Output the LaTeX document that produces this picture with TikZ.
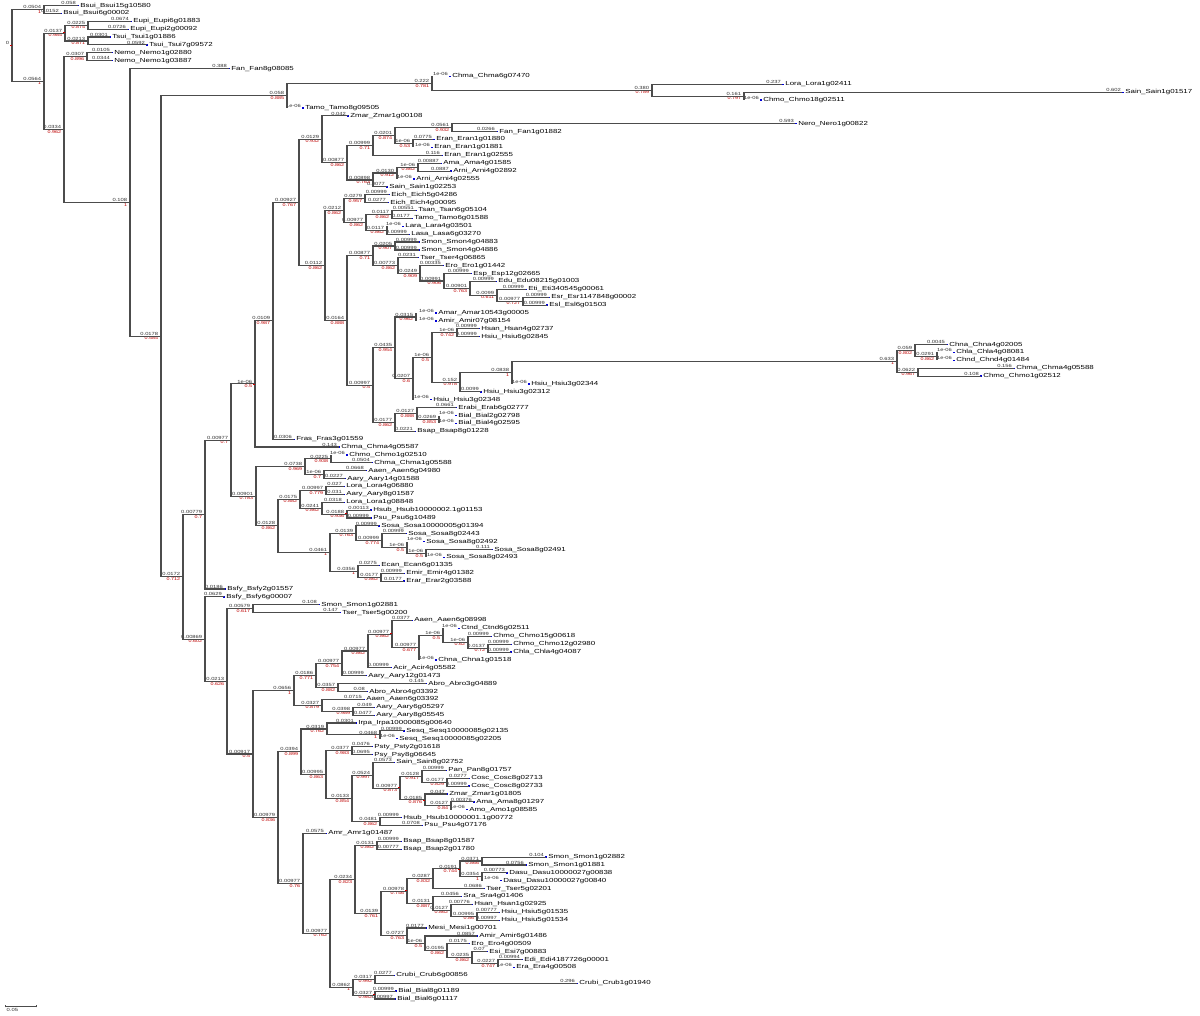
\documentclass[tikz,border=0pt]{standalone}
\usepackage{fontspec}
\setmainfont{Liberation Sans}
\usetikzlibrary{calc}
\tikzset{
  br/.style={draw=black!70, line width=0.85pt},
  bltxt/.style={font=\fontsize{3.35}{3.35}\selectfont, inner sep=0.2pt, xscale=1.3, text=black!80},
  sptxt/.style={font=\fontsize{3.1}{3.1}\selectfont, inner sep=0.2pt, xscale=1.3, text=red!75!black},
  lftxt/.style={font=\fontsize{4.4}{4.4}\selectfont, inner sep=0pt, anchor=west, xscale=1.35},
  lmark/.style={fill=blue!85!black},
  nmark/.style={fill=red!80!black}
}
\newcommand\TLeaf[5]{%
  \pgfmathsetmacro\ly{5.5+7.885*#1}%
  \coordinate (L#1) at (#2,\ly);
  \fill[lmark] ({#3-3.2},{\ly-0.65}) rectangle ({#3-0.6},{\ly+0.65});
  \node[bltxt,anchor=south east] at ({#3-3.4},{\ly-0.3}) {#4};
  \node[lftxt] (N#1) at (#3,\ly) {#5};
}
\newcommand\TNode[6]{%
  \coordinate (tmp) at ($(#3)!0.5!(#4)$);
  \coordinate (#1) at (tmp -| #2,0);
  \draw[br] (#1) |- (#3);
  \draw[br] (#1) |- (#4);
  \fill[nmark] ([xshift=-1.4pt,yshift=-0.45pt]#1) rectangle ([yshift=0.45pt]#1);
  \node[bltxt,anchor=south east] at ([xshift=-1.6pt,yshift=0.2pt]#1) {#5};
  \node[sptxt,anchor=north east] at ([xshift=-1.6pt,yshift=-0.2pt]#1) {#6};
}
\begin{document}
\begin{tikzpicture}[x=0.75pt,y=-0.75pt]
\fill[white] (0,0) rectangle (1200,1016);
\useasboundingbox (0,0) rectangle (1200,1016);
% leaves
\TLeaf{0}{78}{80}{0.058}{Bsui\_Bsui15g10580}
\TLeaf{1}{61}{63}{0.0152}{Bsui\_Bsui6g00002}
\TLeaf{2}{131}{133}{0.0674}{Eupi\_Eupi6g01883}
\TLeaf{3}{128}{130}{0.0726}{Eupi\_Eupi2g00092}
\TLeaf{4}{110}{112}{0.0301}{Tsui\_Tsui1g01886}
\TLeaf{5}{147}{149}{0.0592}{Tsui\_Tsui7g09572}
\TLeaf{6}{112}{114}{0.0105}{Nemo\_Nemo1g02880}
\TLeaf{7}{112}{114}{0.0344}{Nemo\_Nemo1g03887}
\TLeaf{8}{229}{231}{0.388}{Fan\_Fan8g08085}
\TLeaf{9}{432}{452}{1e-06}{Chma\_Chma6g07470}
\TLeaf{10}{782}{785}{0.237}{Lora\_Lora1g02411}
\TLeaf{11}{1122}{1125}{0.602}{Sain\_Sain1g01517}
\TLeaf{12}{744}{763}{1e-06}{Chmo\_Chmo18g02511}
\TLeaf{13}{287}{305}{1e-06}{Tamo\_Tamo8g09505}
\TLeaf{14}{348}{350}{0.042}{Zmar\_Zmar1g00108}
\TLeaf{15}{795}{798}{0.593}{Nero\_Nero1g00822}
\TLeaf{16}{497}{499}{0.0266}{Fan\_Fan1g01882}
\TLeaf{17}{433}{436}{0.0775}{Eran\_Eran1g01880}
\TLeaf{18}{413}{434}{1e-06}{Eran\_Eran1g01881}
\TLeaf{19}{442}{444}{0.116}{Eran\_Eran1g02555}
\TLeaf{20}{441}{443}{0.00887}{Ama\_Ama4g01585}
\TLeaf{21}{451}{453}{0.0887}{Arni\_Arni4g02892}
\TLeaf{22}{397}{416}{1e-06}{Arni\_Arni4g02555}
\TLeaf{23}{387}{389}{0.0077}{Sain\_Sain1g02253}
\TLeaf{24}{389}{391}{0.00999}{Eich\_Eich5g04286}
\TLeaf{25}{388}{390}{0.0277}{Eich\_Eich4g00095}
\TLeaf{26}{416}{418}{0.00551}{Tsan\_Tsan6g05104}
\TLeaf{27}{412}{414}{0.0177}{Tamo\_Tamo6g01588}
\TLeaf{28}{387}{405}{1e-06}{Lara\_Lara4g03501}
\TLeaf{29}{409}{411}{0.00999}{Lasa\_Lasa6g03270}
\TLeaf{30}{419}{421}{0.00999}{Smon\_Smon4g04883}
\TLeaf{31}{419}{421}{0.00999}{Smon\_Smon4g04886}
\TLeaf{32}{418}{420}{0.0231}{Tser\_Tser4g06865}
\TLeaf{33}{443}{445}{0.00335}{Ero\_Ero1g01442}
\TLeaf{34}{471}{473}{0.00999}{Esp\_Esp12g02665}
\TLeaf{35}{496}{498}{0.00999}{Edu\_Edu08215g01003}
\TLeaf{36}{526}{528}{0.00999}{Eti\_Eti340545g00061}
\TLeaf{37}{549}{551}{0.00999}{Esr\_Esr1147848g00002}
\TLeaf{38}{547}{549}{0.00999}{Esl\_Esl6g01503}
\TLeaf{39}{416}{438}{1e-06}{Amar\_Amar10543g00005}
\TLeaf{40}{416}{438}{1e-06}{Amir\_Amir07g08154}
\TLeaf{41}{479}{481}{0.00999}{Hsan\_Hsan4g02737}
\TLeaf{42}{479}{481}{0.00999}{Hsiu\_Hsiu6g02845}
\TLeaf{43}{947}{949}{0.0045}{Chna\_Chna4g02005}
\TLeaf{44}{937}{956}{1e-06}{Chla\_Chla4g08081}
\TLeaf{45}{937}{956}{1e-06}{Chnd\_Chnd4g01484}
\TLeaf{46}{1014}{1016}{0.156}{Chma\_Chma4g05588}
\TLeaf{47}{981}{983}{0.108}{Chmo\_Chmo1g02512}
\TLeaf{48}{512}{531}{1e-06}{Hsiu\_Hsiu3g02344}
\TLeaf{49}{481}{483}{0.0099}{Hsiu\_Hsiu3g02312}
\TLeaf{50}{413}{433}{1e-06}{Hsiu\_Hsiu3g02348}
\TLeaf{51}{456}{458}{0.0661}{Erabi\_Erab6g02777}
\TLeaf{52}{439}{458}{1e-06}{Bial\_Bial2g02798}
\TLeaf{53}{439}{458}{1e-06}{Bial\_Bial4g02595}
\TLeaf{54}{415}{417}{0.0221}{Bsap\_Bsap8g01228}
\TLeaf{55}{294}{296}{0.0306}{Fras\_Fras3g01559}
\TLeaf{56}{339}{341}{0.143}{Chma\_Chma4g05587}
\TLeaf{57}{331}{349}{1e-06}{Chmo\_Chmo1g02510}
\TLeaf{58}{372}{374}{0.0504}{Chma\_Chma1g05588}
\TLeaf{59}{366}{368}{0.0668}{Aaen\_Aaen6g04980}
\TLeaf{60}{345}{347}{0.0227}{Aary\_Aary14g01588}
\TLeaf{61}{344}{346}{0.027}{Lora\_Lora4g06880}
\TLeaf{62}{344}{346}{0.031}{Aary\_Aary8g01587}
\TLeaf{63}{344}{346}{0.0318}{Lora\_Lora1g08848}
\TLeaf{64}{371}{373}{0.00113}{Hsub\_Hsub10000002.1g01153}
\TLeaf{65}{371}{373}{0.00999}{Psu\_Psu6g10489}
\TLeaf{66}{379}{381}{0.00999}{Sosa\_Sosa10000005g01394}
\TLeaf{67}{406}{408}{0.00999}{Sosa\_Sosa8g02443}
\TLeaf{68}{407}{426}{1e-06}{Sosa\_Sosa8g02492}
\TLeaf{69}{492}{494}{0.111}{Sosa\_Sosa8g02491}
\TLeaf{70}{426}{446}{1e-06}{Sosa\_Sosa8g02493}
\TLeaf{71}{379}{381}{0.0275}{Ecan\_Ecan6g01335}
\TLeaf{72}{404}{406}{0.00999}{Emir\_Emir4g01382}
\TLeaf{73}{404}{406}{0.0177}{Erar\_Erar2g03588}
\TLeaf{74}{225}{227}{0.0186}{Bsfy\_Bsfy2g01557}
\TLeaf{75}{224}{226}{0.0629}{Bsfy\_Bsfy6g00007}
\TLeaf{76}{319}{321}{0.108}{Smon\_Smon1g02881}
\TLeaf{77}{340}{342}{0.147}{Tser\_Tser5g00200}
\TLeaf{78}{412}{414}{0.0377}{Aaen\_Aaen6g08998}
\TLeaf{79}{443}{461}{1e-06}{Ctnd\_Ctnd6g02511}
\TLeaf{80}{491}{493}{0.00999}{Chmo\_Chmo15g00618}
\TLeaf{81}{511}{513}{0.00999}{Chmo\_Chmo12g02980}
\TLeaf{82}{511}{513}{0.00999}{Chla\_Chla4g04087}
\TLeaf{83}{419}{438}{1e-06}{Chna\_Chna1g01518}
\TLeaf{84}{391}{393}{0.00999}{Acir\_Acir4g05582}
\TLeaf{85}{366}{368}{0.00999}{Aary\_Aary12g01473}
\TLeaf{86}{426}{428}{0.145}{Abro\_Abro3g04889}
\TLeaf{87}{367}{369}{0.08}{Abro\_Abro4g03392}
\TLeaf{88}{364}{366}{0.0715}{Aaen\_Aaen6g03392}
\TLeaf{89}{374}{376}{0.049}{Aary\_Aary6g05297}
\TLeaf{90}{374}{376}{0.0477}{Aary\_Aary8g05545}
\TLeaf{91}{356}{358}{0.0301}{Irpa\_Irpa10000085g00640}
\TLeaf{92}{404}{406}{0.00999}{Sesq\_Sesq10000085g02135}
\TLeaf{93}{380}{399}{1e-06}{Sesq\_Sesq10000085g02205}
\TLeaf{94}{372}{374}{0.0476}{Psty\_Psty2g01618}
\TLeaf{95}{372}{374}{0.0695}{Psy\_Psy8g06645}
\TLeaf{96}{394}{396}{0.0573}{Sain\_Sain8g02752}
\TLeaf{97}{446}{448}{0.00999}{Pan\_Pan8g01757}
\TLeaf{98}{469}{471}{0.0277}{Cosc\_Cosc8g02713}
\TLeaf{99}{469}{471}{0.00999}{Cosc\_Cosc8g02733}
\TLeaf{100}{447}{449}{0.047}{Zmar\_Zmar1g01805}
\TLeaf{101}{474}{476}{0.00376}{Ama\_Ama8g01297}
\TLeaf{102}{451}{469}{1e-06}{Amo\_Amo1g08585}
\TLeaf{103}{401}{403}{0.00999}{Hsub\_Hsub10000001.1g00772}
\TLeaf{104}{422}{424}{0.0708}{Psu\_Psu4g07176}
\TLeaf{105}{326}{328}{0.0575}{Amr\_Amr1g01487}
\TLeaf{106}{401}{403}{0.00999}{Bsap\_Bsap8g01587}
\TLeaf{107}{401}{403}{0.00777}{Bsap\_Bsap2g01780}
\TLeaf{108}{546}{548}{0.104}{Smon\_Smon1g02882}
\TLeaf{109}{526}{528}{0.0756}{Smon\_Smon1g01881}
\TLeaf{110}{507}{509}{0.00773}{Dasu\_Dasu10000027g00838}
\TLeaf{111}{482}{503}{1e-06}{Dasu\_Dasu10000027g00840}
\TLeaf{112}{484}{486}{0.0686}{Tser\_Tser5g02201}
\TLeaf{113}{461}{463}{0.0456}{Sra\_Sra4g01406}
\TLeaf{114}{472}{474}{0.00776}{Hsan\_Hsan1g02925}
\TLeaf{115}{499}{501}{0.00777}{Hsiu\_Hsiu5g01535}
\TLeaf{116}{499}{501}{0.00997}{Hsiu\_Hsiu5g01534}
\TLeaf{117}{426}{428}{0.0177}{Mesi\_Mesi1g00701}
\TLeaf{118}{477}{479}{0.0857}{Amir\_Amir6g01486}
\TLeaf{119}{469}{471}{0.0175}{Ero\_Ero4g00509}
\TLeaf{120}{487}{489}{0.07}{Esi\_Esi7g00883}
\TLeaf{121}{522}{524}{0.00994}{Edi\_Edi4187726g00001}
\TLeaf{122}{498}{516}{1e-06}{Era\_Era4g00508}
\TLeaf{123}{394}{396}{0.0277}{Crubi\_Crub6g00856}
\TLeaf{124}{577}{579}{0.296}{Crubi\_Crub1g01940}
\TLeaf{125}{396}{398}{0.00999}{Bial\_Bial8g01189}
\TLeaf{126}{395}{397}{0.00997}{Bial\_Bial6g01117}
% internal nodes (post-order)
\TNode{nA}{44}{L0}{L1}{0.0504}{1}
\TNode{nE}{88}{L2}{L3}{0.0225}{0.874}
\TNode{nF}{88}{L4}{L5}{0.0213}{0.871}
\TNode{nC}{65}{nE}{nF}{0.0137}{0.984}
\TNode{nG}{87}{L6}{L7}{0.0307}{0.896}
\TNode{nN}{744}{L11}{L12}{0.161}{0.797}
\TNode{nM}{652}{L10}{nN}{0.380}{0.789}
\TNode{nL}{432}{L9}{nM}{0.222}{0.781}
\TNode{nJ}{287}{nL}{L13}{0.058}{0.885}
\TNode{nW7}{452}{L15}{L16}{0.0561}{0.932}
\TNode{nW8}{413}{L17}{L18}{1e-06}{0.53}
\TNode{nW5}{395}{nW7}{nW8}{0.0201}{0.874}
\TNode{nW3}{373}{nW5}{L19}{0.00999}{0.71}
\TNode{nW10}{418}{L20}{L21}{1e-06}{0.862}
\TNode{nW9}{397}{nW10}{L22}{0.0130}{0.912}
\TNode{nW4}{373}{nW9}{L23}{0.00898}{0.763}
\TNode{nW2}{347}{nW3}{nW4}{0.00877}{0.862}
\TNode{nW}{322}{L14}{nW2}{0.0129}{0.932}
\TNode{nX3}{365}{L24}{L25}{0.0279}{0.957}
\TNode{nX5}{392}{L26}{L27}{0.0117}{0.862}
\TNode{nX6}{387}{L28}{L29}{0.0117}{0.862}
\TNode{nX4}{366}{nX5}{nX6}{0.00977}{0.862}
\TNode{nX1}{344}{nX3}{nX4}{0.0212}{0.862}
\TNode{nX9}{395}{L30}{L31}{0.0205}{0.907}
\TNode{nX15}{523}{L37}{L38}{0.00977}{0.727}
\TNode{nX14}{497}{L36}{nX15}{0.0099}{0.611}
\TNode{nX13}{470}{L35}{nX14}{0.00901}{0.763}
\TNode{nX12}{444}{L34}{nX13}{0.00991}{0.906}
\TNode{nX11}{420}{L33}{nX12}{0.0249}{0.909}
\TNode{nX10}{398}{L32}{nX11}{0.00773}{0.862}
\TNode{nX7}{373}{nX9}{nX10}{0.00877}{0.71}
\TNode{nX18}{416}{L39}{L40}{0.0315}{0.962}
\TNode{nX21}{457}{L41}{L42}{1e-06}{0.742}
\TNode{nX27}{937}{L44}{L45}{0.0291}{0.862}
\TNode{nX25}{915}{L43}{nX27}{0.059}{0.802}
\TNode{nX26}{918}{L46}{L47}{0.0622}{0.967}
\TNode{nX24}{897}{nX25}{nX26}{0.633}{1}
\TNode{nX23}{512}{nX24}{L48}{0.0838}{1}
\TNode{nX22}{460}{nX23}{L49}{0.152}{0.978}
\TNode{nX20}{432}{nX21}{nX22}{1e-06}{0.5}
\TNode{nX19}{413}{nX20}{L50}{0.0207}{0.6}
\TNode{nX16}{395}{nX18}{nX19}{0.0435}{0.954}
\TNode{nX29}{439}{L52}{L53}{0.0269}{0.853}
\TNode{nX28}{417}{L51}{nX29}{0.0127}{0.888}
\TNode{nX17}{395}{nX28}{L54}{0.0177}{0.862}
\TNode{nX8}{373}{nX16}{nX17}{0.00997}{0.5}
\TNode{nX2}{347}{nX7}{nX8}{0.0164}{0.888}
\TNode{nX}{325}{nX1}{nX2}{0.0112}{0.862}
\TNode{nV}{299}{nW}{nX}{0.00927}{0.767}
\TNode{nU}{273}{nV}{L55}{0.0109}{0.987}
\TNode{nS}{255}{nU}{L56}{1e-06}{0.5}
\TNode{nT3}{331}{L57}{L58}{0.0225}{0.938}
\TNode{nT4}{324}{L59}{L60}{1e-06}{0.7}
\TNode{nT1}{305}{nT3}{nT4}{0.0738}{0.969}
\TNode{nT7}{326}{L61}{L62}{0.00997}{0.779}
\TNode{nT9}{347}{L64}{L65}{0.0188}{0.936}
\TNode{nT8}{322}{L63}{nT9}{0.0241}{0.862}
\TNode{nT5}{300}{nT7}{nT8}{0.0175}{0.882}
\TNode{nT14}{426}{L69}{L70}{1e-06}{0.5}
\TNode{nT13}{407}{L68}{nT14}{1e-06}{0.5}
\TNode{nT12}{382}{L67}{nT13}{0.00999}{0.774}
\TNode{nT10}{356}{L66}{nT12}{0.0139}{0.763}
\TNode{nT15}{381}{L72}{L73}{0.0177}{0.862}
\TNode{nT11}{358}{L71}{nT15}{0.0356}{1}
\TNode{nT6}{330}{nT10}{nT11}{0.0461}{1}
\TNode{nT2}{278}{nT5}{nT6}{0.0128}{0.862}
\TNode{nT}{256}{nT1}{nT2}{0.00901}{0.783}
\TNode{nR1}{231}{nS}{nT}{0.00977}{0.7}
\TNode{nP}{205}{nR1}{L74}{0.00779}{0.7}
\TNode{nQ2}{253}{L76}{L77}{0.00579}{0.617}
\TNode{nQ15}{488}{L81}{L82}{0.0137}{0.72}
\TNode{nQ14}{468}{L80}{nQ15}{1e-06}{0.62}
\TNode{nQ13}{443}{L79}{nQ14}{1e-06}{0.5}
\TNode{nQ12}{419}{nQ13}{L83}{0.00977}{0.677}
\TNode{nQ11}{392}{L78}{nQ12}{0.00977}{0.862}
\TNode{nQ10}{368}{nQ11}{L84}{0.00977}{0.862}
\TNode{nQ8}{342}{nQ10}{L85}{0.00977}{0.754}
\TNode{nQ9}{338}{L86}{L87}{0.0357}{0.882}
\TNode{nQ6}{316}{nQ8}{nQ9}{0.0186}{0.771}
\TNode{nQ16}{353}{L89}{L90}{0.0398}{0.989}
\TNode{nQ7}{322}{L88}{nQ16}{0.0327}{0.879}
\TNode{nQ4}{294}{nQ6}{nQ7}{0.0656}{1}
\TNode{nQ21}{380}{L92}{L93}{0.0468}{1}
\TNode{nQ19}{327}{L91}{nQ21}{0.0319}{0.762}
\TNode{nQ22}{352}{L94}{L95}{0.0377}{0.983}
\TNode{nQ29}{447}{L98}{L99}{0.0177}{0.829}
\TNode{nQ27}{422}{L97}{nQ29}{0.0128}{0.917}
\TNode{nQ30}{451}{L101}{L102}{0.0127}{0.84}
\TNode{nQ28}{425}{L100}{nQ30}{0.0185}{0.876}
\TNode{nQ26}{400}{nQ27}{nQ28}{0.00977}{0.873}
\TNode{nQ24}{373}{L96}{nQ26}{0.0524}{0.997}
\TNode{nQ25}{380}{L103}{L104}{0.0481}{0.862}
\TNode{nQ23}{352}{nQ24}{nQ25}{0.0133}{0.854}
\TNode{nQ20}{326}{nQ22}{nQ23}{0.00995}{0.863}
\TNode{nQ17}{301}{nQ19}{nQ20}{0.0394}{0.899}
\TNode{nQ37}{377}{L106}{L107}{0.0131}{0.862}
\TNode{nQ45}{482}{L108}{L109}{0.0371}{0.866}
\TNode{nQ46}{482}{L110}{L111}{0.0354}{1}
\TNode{nQ44}{460}{nQ45}{nQ46}{0.0191}{0.744}
\TNode{nQ41}{433}{nQ44}{L112}{0.0287}{0.832}
\TNode{nQ48}{477}{L115}{L116}{0.00995}{0.86}
\TNode{nQ47}{451}{L114}{nQ48}{0.0127}{0.862}
\TNode{nQ42}{433}{L113}{nQ47}{0.0131}{0.887}
\TNode{nQ39}{407}{nQ41}{nQ42}{0.00978}{0.746}
\TNode{nQ52}{498}{L121}{L122}{0.0227}{0.747}
\TNode{nQ51}{472}{L120}{nQ52}{0.0235}{0.862}
\TNode{nQ50}{447}{L119}{nQ51}{0.0195}{0.862}
\TNode{nQ49}{425}{L118}{nQ50}{1e-06}{0.5}
\TNode{nQ40}{407}{L117}{nQ49}{0.0727}{0.763}
\TNode{nQ38}{381}{nQ39}{nQ40}{0.0139}{0.761}
\TNode{nQ32}{355}{nQ37}{nQ38}{0.0234}{0.823}
\TNode{nQ35}{375}{L123}{L124}{0.0317}{0.992}
\TNode{nQ36}{375}{L125}{L126}{0.0327}{0.982}
\TNode{nQ33}{353}{nQ35}{nQ36}{0.0862}{1}
\TNode{nQ31}{330}{nQ32}{nQ33}{0.00977}{0.762}
\TNode{nQ18}{303}{L105}{nQ31}{0.00977}{0.76}
\TNode{nQ5}{278}{nQ17}{nQ18}{0.00979}{0.836}
\TNode{nQ3}{253}{nQ4}{nQ5}{0.00917}{0.5}
\TNode{nQ1}{227}{nQ2}{nQ3}{0.0213}{0.626}
\TNode{nQ}{205}{L75}{nQ1}{0.00869}{0.602}
\TNode{nK}{183}{nP}{nQ}{0.0172}{0.712}
\TNode{nI}{161}{nJ}{nK}{0.0178}{0.584}
\TNode{nH}{130}{L8}{nI}{0.108}{1}
\TNode{nD}{64}{nG}{nH}{0.0334}{0.962}
\TNode{nB}{44}{nC}{nD}{0.0564}{1}
\TNode{nR}{12}{nA}{nB}{0}{}
% scale bar
\coordinate (s1) at (5,1006);
\coordinate (s2) at (36,1006);
\draw[black!70, line width=0.5pt] (s1) -- (s2);
\draw[black!70, line width=0.5pt] ([yshift=-1pt]s1) -- ([yshift=1pt]s1);
\draw[black!70, line width=0.5pt] ([yshift=-1pt]s2) -- ([yshift=1pt]s2);
\node[bltxt, anchor=north west] (sbl) at (6,1007.5) {0.05};
\end{tikzpicture}
\end{document}
